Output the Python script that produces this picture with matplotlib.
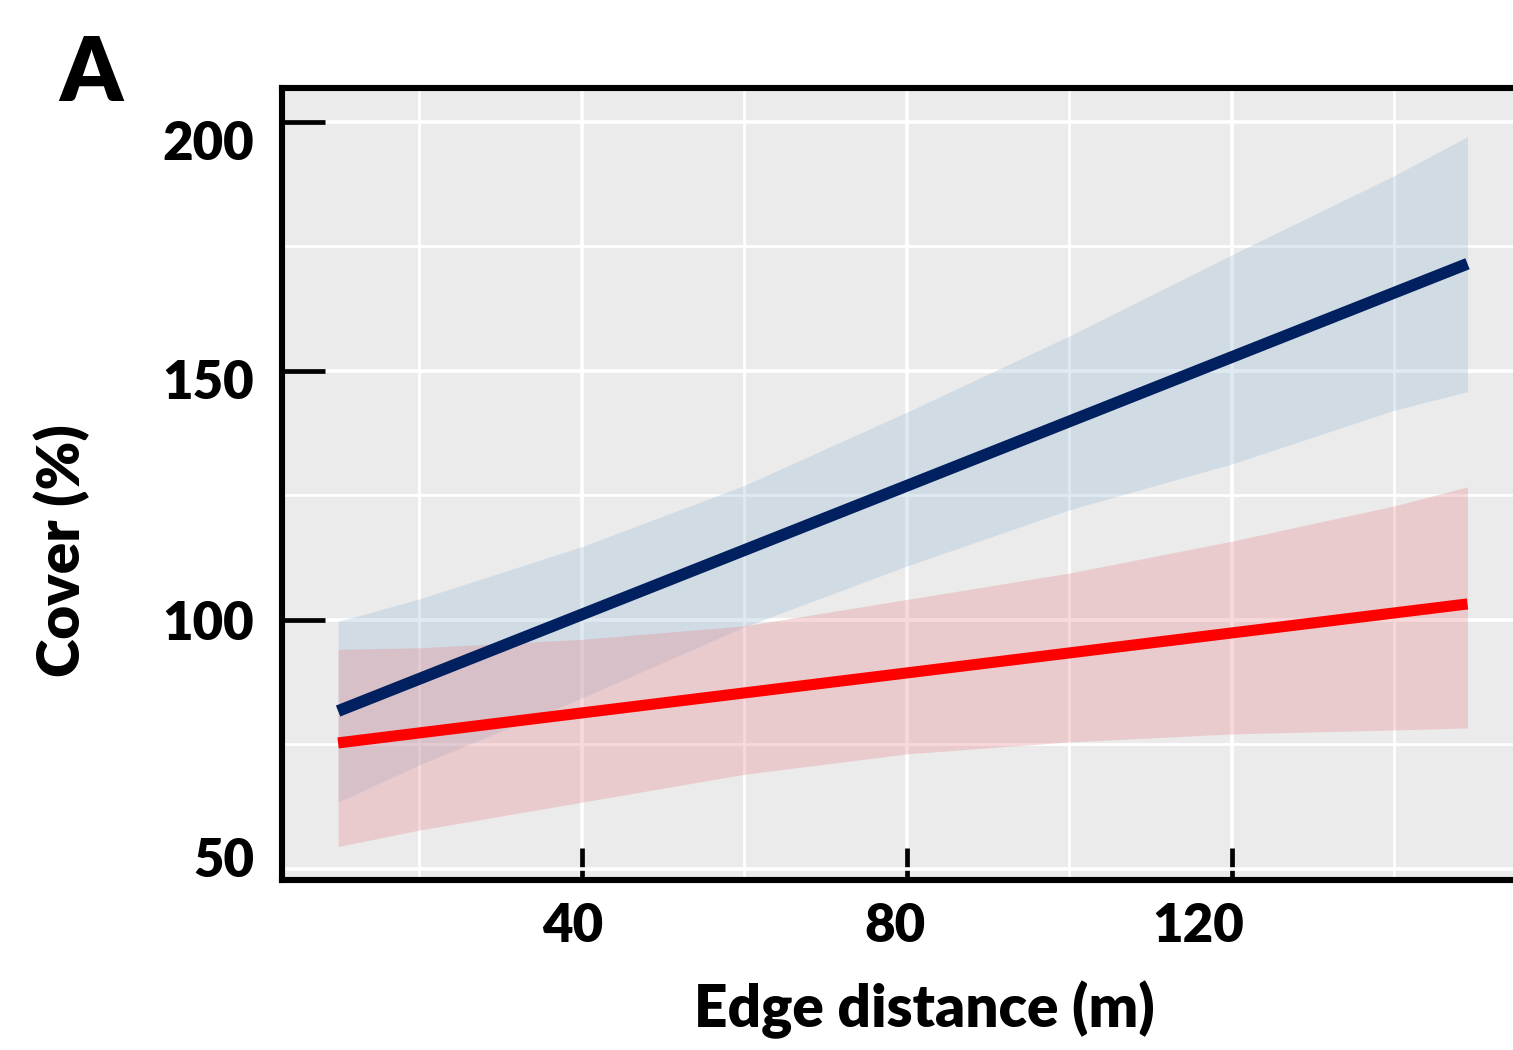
import matplotlib
matplotlib.use("Agg")
import matplotlib.pyplot as plt
from matplotlib.transforms import ScaledTranslation

# values
band_x = [10, 20, 40, 60, 80, 100, 120, 140, 149]
blue_upper = [99.7, 104.2, 114.7, 127.0, 141.7, 157.0, 173.3, 189.2, 197.0]
blue_lower = [63.4, 70.9, 84.3, 98.6, 110.8, 122.1, 131.3, 142.1, 145.8]
red_upper = [94.1, 94.4, 96.1, 98.8, 104.1, 109.4, 115.8, 122.9, 126.7]
red_lower = [54.5, 57.8, 63.4, 69.0, 73.1, 75.5, 77.1, 77.9, 78.3]

fit_x = [10, 149]
blue_fit = [81.7, 171.5]
red_fit = [75.3, 103.2]

x_ticks = [40, 80, 120]
y_ticks = [50, 100, 150, 200]

plt.rcParams['font.family'] = ['Lato', 'DejaVu Sans']
plt.rcParams['font.weight'] = 'heavy'

fig = plt.figure(figsize=(15.13, 10.5), dpi=100)
ax = fig.add_axes([0.1864, 0.162, 0.8136, 0.7543])
ax.set_facecolor('#EBEBEB')

# ribbons then fitted lines
ax.fill_between(band_x, blue_lower, blue_upper, color='#98B9D7', alpha=0.3, linewidth=0)
ax.fill_between(band_x, red_lower, red_upper, color='#E8848A', alpha=0.3, linewidth=0)
ax.plot(fit_x, blue_fit, color='#002060', linewidth=8.5, solid_capstyle='butt')
ax.plot(fit_x, red_fit, color='#FF0000', linewidth=8.0, solid_capstyle='butt')

ax.set_xlim(3.1, 154.6)
ax.set_ylim(47.8, 206.8)

# grid, ggplot style
ax.set_xticks(x_ticks)
ax.set_yticks(y_ticks)
ax.set_xticks([20, 60, 100, 140], minor=True)
ax.set_yticks([75, 125, 175], minor=True)
ax.grid(True, which='major', color='white', linewidth=2.6)
ax.grid(True, which='minor', color='white', linewidth=2.0)
ax.set_axisbelow(True)

for side in ['left', 'bottom', 'top']:
    ax.spines[side].set_linewidth(4.4)
    ax.spines[side].set_color('black')
ax.spines['right'].set_visible(False)

ax.tick_params(axis='y', which='major', direction='in', length=31, width=3.4,
               labelsize=38, pad=20)
ax.tick_params(axis='x', which='major', direction='in', length=23, width=3.4,
               labelsize=38, pad=16)
ax.tick_params(which='minor', length=0)
ax.yaxis.get_major_ticks()[0].tick1line.set_visible(False)

# hand placed labels in the original sit a little off their ticks
x_shift = [-9, -12, -34]
y_shift = [-12, 0, 8, 18]
for lab, dx in zip(ax.get_xticklabels(), x_shift):
    lab.set_transform(lab.get_transform() + ScaledTranslation(dx / 100, 0, fig.dpi_scale_trans))
for lab, dy in zip(ax.get_yticklabels(), y_shift):
    lab.set_transform(lab.get_transform() + ScaledTranslation(0, -dy / 100, fig.dpi_scale_trans))

fig.text(0.611, 0.038, 'Edge distance (m)', fontsize=42, fontweight='heavy', ha='center', va='center')
fig.text(0.041, 0.476, 'Cover (%)', fontsize=42, fontweight='heavy', ha='center', va='center',
         rotation=90)
fig.text(0.060, 0.929, 'A', fontsize=64, fontweight='heavy', ha='center', va='center')

fig.savefig('out.png', dpi=100)
